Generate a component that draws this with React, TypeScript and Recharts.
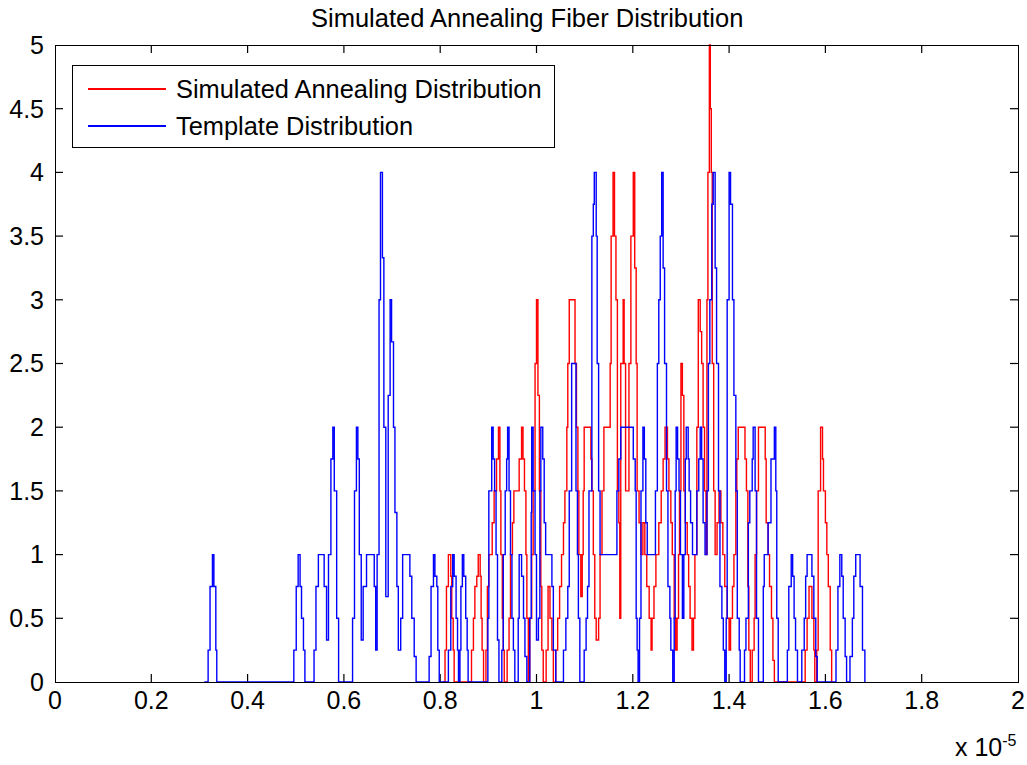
import React from 'react';
import { LineChart, Line, XAxis, YAxis, ReferenceLine } from 'recharts';

const TITLE = 'Simulated Annealing Fiber Distribution';
const SERIES_NAMES = ['Simulated Annealing Distribution', 'Template Distribution'];
const SERIES_COLORS = ['#ff0000', '#0000ff'];
const X_TICKS = [0, 0.2, 0.4, 0.6, 0.8, 1, 1.2, 1.4, 1.6, 1.8, 2];
const Y_TICKS = [0, 0.5, 1, 1.5, 2, 2.5, 3, 3.5, 4, 4.5, 5];
const X_DOMAIN: [number, number] = [0, 2];
const Y_DOMAIN: [number, number] = [0, 5];
const X_EXPONENT = '-5';

// Step breakpoints [x (×1e-5), value held until next breakpoint]
const annealingSteps: [number, number][] = [
  [0.805, 0], [0.810, 0.25], [0.813, 0.75], [0.817, 1], [0.822, 0.83], [0.824, 0.5], [0.827, 0.25], [0.829, 0],
  [0.865, 0.25], [0.869, 0.5], [0.872, 0.75], [0.876, 0.83], [0.879, 1], [0.883, 0.83], [0.885, 0.5], [0.887, 0.25], [0.890, 0],
  [0.895, 0.25], [0.898, 0.75], [0.901, 1], [0.908, 1.25], [0.912, 1.5], [0.917, 1.75], [0.921, 2], [0.924, 1.5], [0.926, 1], [0.929, 0.5], [0.931, 0.25], [0.933, 0],
  [0.939, 0.25], [0.943, 0.5], [0.946, 1], [0.950, 1.25], [0.953, 1.5], [0.964, 1.75], [0.969, 2], [0.972, 1.75], [0.975, 1.5], [0.978, 1], [0.980, 0.5], [0.983, 0],
  [0.986, 0.5], [0.990, 1], [0.993, 1.5], [0.997, 2.5], [1.000, 3], [1.003, 2.25], [1.006, 1.5], [1.009, 0.75], [1.011, 0.25], [1.014, 0],
  [1.020, 0.25], [1.024, 0.75], [1.028, 0.5], [1.032, 0.25], [1.035, 0],
  [1.040, 0.25], [1.044, 0.5], [1.048, 0.75], [1.052, 1], [1.056, 1.25], [1.059, 1.5], [1.063, 2], [1.065, 2.5], [1.068, 3], [1.080, 2.5], [1.083, 2], [1.086, 1.5], [1.088, 1], [1.092, 0.67],
  [1.095, 1], [1.097, 1.5], [1.099, 2], [1.113, 1.75], [1.115, 1.5], [1.118, 1], [1.121, 0.5], [1.124, 0.33],
  [1.129, 0.5], [1.132, 1], [1.136, 1.5], [1.140, 2], [1.153, 2.5], [1.155, 3.5], [1.159, 4], [1.162, 3.5], [1.165, 3], [1.168, 1.5], [1.171, 1.25], [1.173, 0.5],
  [1.175, 2.5], [1.180, 3], [1.182, 2.5], [1.185, 1.5], [1.192, 2.5], [1.196, 3.5], [1.201, 4], [1.204, 3.25], [1.207, 2.5], [1.209, 1.5], [1.213, 1.25], [1.217, 1],
  [1.221, 1.25], [1.225, 1], [1.229, 0.75], [1.234, 0.5], [1.238, 0.25], [1.240, 0.5], [1.244, 0.75], [1.248, 1], [1.254, 1.25], [1.259, 1.5], [1.263, 1.75], [1.267, 2],
  [1.272, 1.75], [1.275, 1.5], [1.279, 1.25], [1.282, 1], [1.286, 0.5], [1.289, 0.25], [1.292, 0.5], [1.295, 1], [1.297, 1.5], [1.300, 2.5], [1.303, 2.25], [1.306, 1.5],
  [1.309, 1.25], [1.313, 1], [1.316, 0.75], [1.319, 0.5], [1.323, 0.25], [1.326, 0.5], [1.329, 1], [1.333, 2], [1.336, 3], [1.340, 2.75], [1.343, 2.5], [1.346, 2],
  [1.349, 1.5], [1.352, 1], [1.354, 3], [1.356, 4], [1.359, 5], [1.361, 4.5], [1.363, 4], [1.365, 2.5], [1.368, 1.5], [1.371, 1], [1.375, 1.25], [1.379, 1.5],
  [1.383, 1.25], [1.387, 1], [1.391, 0.75], [1.396, 0.5], [1.400, 0.25], [1.403, 0.5], [1.407, 0.75], [1.410, 1], [1.414, 1.5], [1.416, 1.75], [1.419, 2], [1.433, 1.75],
  [1.436, 1.5], [1.439, 0.75], [1.441, 0.25], [1.444, 0],
  [1.448, 0.25], [1.452, 0.5], [1.454, 1], [1.457, 1.5], [1.461, 2], [1.475, 1.75], [1.477, 1.25], [1.481, 1], [1.484, 0.75], [1.488, 0.5], [1.491, 0.17], [1.494, 0],
  [1.558, 0.25], [1.562, 0.5], [1.566, 0.75], [1.572, 0.5], [1.576, 0.25], [1.578, 0],
  [1.582, 0.25], [1.585, 1.5], [1.590, 2], [1.594, 1.75], [1.596, 1.5], [1.600, 1.25], [1.603, 1], [1.606, 0.75], [1.610, 0.25], [1.613, 0],
];

const templateSteps: [number, number][] = [
  [0.310, 0], [0.318, 0.25], [0.322, 0.75], [0.327, 1], [0.330, 0.75], [0.334, 0.25], [0.336, 0],
  [0.496, 0.25], [0.501, 0.75], [0.505, 1], [0.509, 0.75], [0.512, 0.5], [0.516, 0.25], [0.519, 0],
  [0.538, 0.25], [0.542, 0.75], [0.547, 1], [0.559, 0.75], [0.564, 0.33], [0.568, 1], [0.573, 1.75], [0.577, 2], [0.580, 1.5], [0.585, 0.5], [0.589, 0],
  [0.618, 0.5], [0.622, 1.5], [0.626, 2], [0.629, 1.75], [0.632, 1], [0.636, 0.33], [0.640, 0.75], [0.647, 1], [0.663, 0.75], [0.666, 0.25],
  [0.669, 1], [0.673, 3], [0.676, 4], [0.680, 3.33], [0.683, 2], [0.687, 0.67], [0.692, 2.25], [0.696, 3], [0.699, 2.67], [0.703, 2], [0.706, 1.33], [0.710, 0.75], [0.713, 0.25],
  [0.718, 0.5], [0.722, 1], [0.737, 0.83], [0.741, 0.5], [0.746, 0.2], [0.750, 0],
  [0.777, 0.2], [0.781, 0.75], [0.786, 1], [0.789, 0.83], [0.793, 0.75], [0.795, 0.25], [0.798, 0],
  [0.817, 0.25], [0.822, 0.75], [0.826, 1], [0.829, 0.83], [0.833, 0.5], [0.836, 0.25], [0.838, 0],
  [0.841, 0.25], [0.843, 0.75], [0.846, 1], [0.849, 0.83], [0.853, 0.5], [0.856, 0.25], [0.858, 0],
  [0.899, 0.5], [0.901, 1.5], [0.907, 2], [0.910, 1.75], [0.913, 1.5], [0.916, 1], [0.919, 0.33], [0.922, 0],
  [0.928, 0.25], [0.931, 1], [0.935, 1.5], [0.938, 1.75], [0.940, 2], [0.943, 1.5], [0.946, 1], [0.949, 0.5], [0.952, 0.25], [0.955, 0],
  [0.962, 0.5], [0.964, 1], [0.969, 0.83], [0.973, 0.5], [0.976, 0.2], [0.980, 0],
  [0.986, 0.5], [0.989, 1.33], [0.990, 2], [0.993, 1.5], [0.997, 1], [1.000, 0.33], [1.004, 0.5], [1.007, 1.5], [1.009, 2], [1.013, 1.75], [1.016, 1.25], [1.019, 1],
  [1.032, 0.75], [1.035, 0.25], [1.040, 0],
  [1.056, 0.25], [1.061, 0.5], [1.065, 0.75], [1.068, 1.5], [1.073, 2.5], [1.082, 1.5], [1.085, 1], [1.087, 0.5], [1.090, 0],
  [1.099, 0.25], [1.103, 0.5], [1.106, 0.75], [1.109, 1.5], [1.115, 3.5], [1.118, 3.75], [1.120, 4], [1.124, 3.5], [1.126, 2.5], [1.129, 1.5], [1.132, 1],
  [1.167, 1.5], [1.171, 1.75], [1.175, 2], [1.201, 1.75], [1.205, 1.5], [1.207, 0.5], [1.209, 0.25], [1.211, 0],
  [1.214, 0.5], [1.217, 1.5], [1.221, 2], [1.224, 1.75], [1.227, 1.25], [1.230, 1],
  [1.247, 1.5], [1.251, 2.5], [1.254, 3], [1.257, 3.5], [1.260, 4], [1.263, 3.25], [1.266, 2.5], [1.270, 1.5], [1.273, 0.75], [1.277, 0.5], [1.279, 0.25], [1.283, 0],
  [1.286, 0.5], [1.288, 1.5], [1.290, 2], [1.293, 1.75], [1.296, 1.5], [1.299, 1], [1.303, 0.5], [1.306, 1], [1.309, 1.75], [1.311, 2], [1.315, 1.75], [1.317, 1.5],
  [1.320, 1.25], [1.324, 1], [1.333, 1.5], [1.337, 1.75], [1.340, 2], [1.343, 1.75], [1.346, 1.25], [1.350, 1],
  [1.354, 1.5], [1.357, 2.5], [1.360, 3], [1.364, 3.75], [1.367, 4], [1.371, 3.25], [1.374, 2.5], [1.378, 1.5], [1.381, 0.75], [1.385, 0.5], [1.388, 0.25], [1.391, 0],
  [1.394, 0.5], [1.396, 3], [1.400, 4], [1.403, 3.75], [1.407, 3], [1.410, 2.25], [1.414, 1.5], [1.417, 0.5], [1.421, 0.25], [1.423, 0],
  [1.432, 0.25], [1.435, 0.5], [1.440, 1.25], [1.443, 1.5], [1.448, 1.75], [1.450, 2], [1.454, 1.5], [1.457, 0.5], [1.461, 0],
  [1.471, 0.75], [1.473, 1], [1.481, 1.25], [1.487, 1.75], [1.494, 2], [1.497, 1.5], [1.499, 0.5], [1.502, 0],
  [1.521, 0.25], [1.524, 0.75], [1.529, 1], [1.532, 0.83], [1.535, 0.5], [1.538, 0.25], [1.542, 0],
  [1.551, 0.25], [1.556, 0.5], [1.559, 0.83], [1.562, 1], [1.572, 0.83], [1.576, 0.5], [1.580, 0.2], [1.583, 0],
  [1.622, 0.25], [1.626, 0.75], [1.630, 1], [1.634, 0.83], [1.637, 0.5], [1.641, 0.2], [1.644, 0],
  [1.651, 0.2], [1.656, 0.5], [1.659, 0.83], [1.663, 1], [1.672, 0.75], [1.677, 0.25], [1.682, 0],
];

const W = 1027;
const H = 765;
const PLOT = { left: 55, top: 45, right: 1018, bottom: 682 };
const FONT = '"Liberation Sans", Arial, Helvetica, sans-serif';
const FS = 25;
const TICK_PX = 8;

export default function App() {
  const annealing = annealingSteps.map(([x, y]) => ({ x, y }));
  const template = templateSteps.map(([x, y]) => ({ x, y }));
  const tickStyle = { fill: '#000', fontSize: FS, fontFamily: FONT };
  const margin = { top: PLOT.top, right: W - PLOT.right, bottom: 0, left: 0 };
  // inward tick length expressed in data units
  const dx = (TICK_PX * (X_DOMAIN[1] - X_DOMAIN[0])) / (PLOT.right - PLOT.left);
  const dy = (TICK_PX * (Y_DOMAIN[1] - Y_DOMAIN[0])) / (PLOT.bottom - PLOT.top);
  const tickProps = { xAxisId: 'b', yAxisId: 'l', stroke: '#000', strokeWidth: 1.2, ifOverflow: 'visible' as const };

  return (
    <div style={{ position: 'absolute', left: 0, top: 0, width: W, height: H, background: '#fff', fontFamily: FONT, color: '#000' }}>
      <LineChart width={W} height={H} margin={margin}>
        <XAxis xAxisId="b" dataKey="x" type="number" domain={X_DOMAIN} ticks={X_TICKS} interval={0}
          orientation="bottom" height={H - PLOT.bottom} axisLine={false} tickLine={false} tickSize={0} tickMargin={9}
          tick={tickStyle} />
        <YAxis yAxisId="l" type="number" domain={Y_DOMAIN} ticks={Y_TICKS} interval={0}
          orientation="left" width={PLOT.left} axisLine={false} tickLine={false} tickSize={0} tickMargin={11}
          tick={tickStyle} />
        {X_TICKS.slice(1, -1).map((t) => (
          <ReferenceLine key={`xb${t}`} {...tickProps} segment={[{ x: t, y: Y_DOMAIN[0] }, { x: t, y: Y_DOMAIN[0] + dy }]} />
        ))}
        {X_TICKS.slice(1, -1).map((t) => (
          <ReferenceLine key={`xt${t}`} {...tickProps} segment={[{ x: t, y: Y_DOMAIN[1] - dy }, { x: t, y: Y_DOMAIN[1] }]} />
        ))}
        {Y_TICKS.slice(1, -1).map((t) => (
          <ReferenceLine key={`yl${t}`} {...tickProps} segment={[{ x: X_DOMAIN[0], y: t }, { x: X_DOMAIN[0] + dx, y: t }]} />
        ))}
        {Y_TICKS.slice(1, -1).map((t) => (
          <ReferenceLine key={`yr${t}`} {...tickProps} segment={[{ x: X_DOMAIN[1] - dx, y: t }, { x: X_DOMAIN[1], y: t }]} />
        ))}
        <Line xAxisId="b" yAxisId="l" data={annealing} dataKey="y" name={SERIES_NAMES[0]} type="stepAfter"
          stroke={SERIES_COLORS[0]} strokeWidth={1.4} dot={false} activeDot={false} isAnimationActive={false} />
        <Line xAxisId="b" yAxisId="l" data={template} dataKey="y" name={SERIES_NAMES[1]} type="stepAfter"
          stroke={SERIES_COLORS[1]} strokeWidth={1.4} dot={false} activeDot={false} isAnimationActive={false} />
      </LineChart>

      {/* plot frame */}
      <div style={{ position: 'absolute', left: PLOT.left, top: PLOT.top, width: PLOT.right - PLOT.left + 1,
        height: PLOT.bottom - PLOT.top + 1, border: '1px solid #000', boxSizing: 'border-box', pointerEvents: 'none' }} />

      {/* title */}
      <div style={{ position: 'absolute', left: 311, top: 6, fontSize: 25.5, lineHeight: 1, whiteSpace: 'nowrap' }}>{TITLE}</div>

      {/* legend */}
      <div style={{ position: 'absolute', left: 72, top: 65, width: 483, height: 83, border: '1px solid #000',
        boxSizing: 'border-box', background: '#fff' }}>
        {SERIES_NAMES.map((name, i) => (
          <React.Fragment key={name}>
            <div style={{ position: 'absolute', left: 15, top: 22 + i * 37, width: 78, height: 2,
              background: SERIES_COLORS[i] }} />
            <div style={{ position: 'absolute', left: 103, top: 11 + i * 37, fontSize: 25.4, lineHeight: 1, whiteSpace: 'nowrap' }}>{name}</div>
          </React.Fragment>
        ))}
      </div>

      {/* x exponent */}
      <div style={{ position: 'absolute', left: 955, top: 735, fontSize: FS, lineHeight: 1, whiteSpace: 'nowrap' }}>
        x 10<span style={{ position: 'relative', top: -10, fontSize: 16 }}>{X_EXPONENT}</span>
      </div>
    </div>
  );
}
